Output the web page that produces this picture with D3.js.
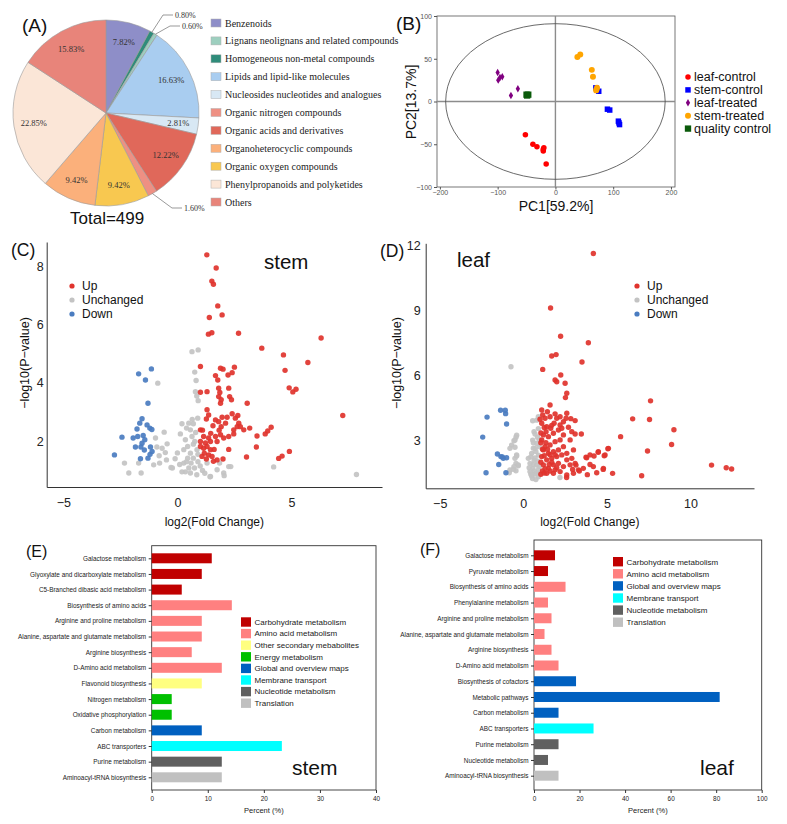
<!DOCTYPE html>
<html><head><meta charset="utf-8">
<script src="https://cdn.jsdelivr.net/npm/d3@7"></script>
<style>body{margin:0;background:#fff}svg{display:block}</style>
</head><body><svg id="c" width="787" height="824"></svg>
<script>
// ---------------- DATA ----------------
const pieCats = ["Benzenoids","Homogeneous non-metal compounds","Lignans neolignans and related compounds","Lipids and lipid-like molecules","Nucleosides nucleotides and analogues","Organic acids and derivatives","Organic nitrogen compounds","Organic oxygen compounds","Organoheterocyclic compounds","Phenylpropanoids and polyketides","Others"];
const piePct = [7.82,0.80,0.60,16.63,2.81,12.22,1.60,9.42,9.42,22.85,15.83];
const pieLegendOrder = ["Benzenoids","Lignans neolignans and related compounds","Homogeneous non-metal compounds","Lipids and lipid-like molecules","Nucleosides nucleotides and analogues","Organic nitrogen compounds","Organic acids and derivatives","Organoheterocyclic compounds","Organic oxygen compounds","Phenylpropanoids and polyketides","Others"];
const pieTotal = 499;

const pcaGroups = ["leaf-control","stem-control","leaf-treated","stem-treated","quality control"];
const leafControlPC = [[-52,-39],[-39,-50],[-32,-53],[-20,-54],[-21,-58],[-21,-56],[-16,-73]];
const stemControlPC = [[70,16],[75,12],[90,-9],[94,-10],[109,-23],[111,-27],[110,-25]];
const leafTreatedPC = [[-100,34],[-96,28],[-99,25],[-92,29],[-65,15],[-77,7]];
const stemTreatedPC = [[38,52],[43,55],[63,37],[65,29],[70.5,13],[72,16],[71,14]];
const qcPC = [[-50,8],[-47,8],[-49,7]];
const pcaTicks = {x:[-200,-100,0,100,200], y:[-100,-50,0,50,100]};

const volcanoClasses = ["Up","Unchanged","Down"];
const stemUp = [[1.29,8.39],[1.70,7.94],[1.51,7.49],[1.58,7.38],[1.77,6.64],[1.40,6.24],[1.96,6.33],[1.36,5.67],[1.51,5.72],[2.68,5.70],[3.70,5.19],[6.30,5.54],[4.65,4.96],[5.72,4.70],[4.72,4.43],[4.90,3.83],[5.06,3.69],[5.20,3.78],[7.25,2.88],[1.01,4.56],[1.67,4.25],[1.89,4.50],[2.00,4.47],[1.77,4.10],[2.22,4.27],[2.50,4.54],[2.40,4.35],[1.01,3.68],[1.30,3.70],[1.81,3.82],[1.86,3.67],[1.81,3.53],[1.92,3.42],[1.89,3.30],[2.25,3.82],[2.29,3.53],[2.37,3.42],[3.06,3.30],[1.30,3.08],[1.37,2.90],[1.27,2.76],[1.67,2.73],[1.81,2.67],[1.96,2.82],[1.56,2.53],[1.92,2.50],[2.11,2.62],[2.18,2.82],[2.40,2.94],[2.54,2.79],[2.69,2.62],[2.62,2.50],[2.47,2.39],[2.91,2.39],[3.17,2.45],[2.65,2.88],[2.76,2.50],[3.49,2.18],[3.85,2.25],[3.96,2.35],[4.11,2.48],[3.46,1.80],[3.03,1.46],[4.44,1.41],[4.59,1.49],[4.91,1.65],[1.01,2.39],[1.15,2.16],[1.37,2.11],[1.01,1.99],[1.23,1.94],[1.45,1.99],[1.67,2.16],[1.89,2.22],[1.74,1.99],[2.03,2.11],[2.25,2.16],[1.01,1.82],[1.15,1.76],[1.30,1.82],[1.45,1.71],[1.18,1.59],[1.37,1.53],[1.08,1.48],[1.27,1.39],[1.52,1.48],[1.74,1.36],[2.25,1.72],[2.00,1.39],[1.58,1.31],[1.61,1.72],[1.46,2.27],[1.83,2.38],[1.10,2.38],[2.47,2.25]];
const stemUnchanged = [[0.64,5.07],[0.91,5.13],[0.76,4.37],[0.82,4.08],[0.79,3.70],[0.91,3.39],[0.85,3.55],[-0.86,3.99],[0.50,2.62],[0.89,2.79],[0.13,2.25],[0.57,2.39],[0.64,2.16],[0.35,2.05],[0.76,1.99],[0.45,1.82],[0.70,1.90],[0.86,1.71],[0.28,1.71],[0.57,1.59],[0.90,1.55],[0.45,1.42],[0.70,1.42],[0.28,1.25],[0.60,1.25],[0.90,1.30],[0.50,1.08],[0.75,1.08],[1.30,1.25],[0.57,0.91],[1.45,0.79],[1.74,1.02],[2.03,0.91],[2.25,1.13],[1.85,1.25],[4.22,1.12],[7.85,0.86],[2.34,1.13],[2.05,0.82],[1.43,0.78],[0.35,0.95],[0.85,0.85],[1.10,1.00],[1.20,0.90],[-0.22,1.08],[-0.58,2.31],[-0.96,2.11],[-0.45,1.91],[-0.67,1.76],[-0.53,1.61],[-2.32,1.25],[-2.13,0.91],[-1.59,0.91],[-1.70,1.25],[-1.04,1.19],[-0.78,1.25],[-0.28,1.10],[-0.48,1.36],[-0.80,1.50],[-0.90,1.80],[0.00,1.60],[0.10,1.20],[0.20,0.95],[-0.10,1.40],[0.40,2.45],[0.70,2.60],[0.80,2.30],[0.65,2.75],[0.20,2.60],[1.00,1.15],[0.40,1.30]];
const stemDown = [[-1.70,4.31],[-1.14,4.48],[-1.40,4.10],[-1.29,3.30],[-1.55,2.77],[-1.65,2.62],[-1.33,2.56],[-1.77,2.42],[-1.21,2.45],[-1.12,2.40],[-2.43,2.14],[-1.94,2.11],[-1.74,2.16],[-1.50,2.20],[-1.43,2.05],[-1.55,1.93],[-1.84,1.80],[-1.60,1.80],[-1.18,1.80],[-1.11,1.65],[-1.20,1.55],[-2.76,1.53],[-1.62,1.40],[-1.29,1.42],[-1.45,1.70]];

const leafUp = [[4.19,11.62],[1.63,9.11],[2.23,7.81],[3.89,7.51],[1.70,6.90],[1.96,6.96],[3.51,6.62],[1.16,6.28],[2.24,6.02],[1.90,5.79],[2.00,5.71],[2.50,5.64],[2.60,5.18],[2.52,4.98],[1.60,4.64],[7.61,4.83],[6.54,4.00],[7.55,3.97],[9.01,3.50],[5.82,3.18],[3.47,3.30],[5.06,2.62],[7.43,2.52],[8.87,2.82],[11.26,1.87],[12.14,1.75],[12.46,1.69],[7.08,1.38],[5.34,1.49],[4.78,1.67],[4.84,2.30],[4.48,2.46],[4.23,2.29],[4.39,1.52],[3.83,1.43],[3.99,1.90],[3.79,2.21],[3.35,1.60],[3.15,1.87],[2.95,1.67],[2.59,1.30],[1.10,4.41],[1.44,4.33],[1.16,4.18],[1.00,3.98],[1.30,4.03],[1.60,4.10],[1.90,4.23],[2.00,4.03],[2.20,4.10],[2.60,4.26],[2.56,4.03],[2.84,4.01],[3.10,3.92],[1.84,3.80],[2.20,3.72],[2.40,3.87],[1.10,3.80],[1.40,3.64],[1.64,3.57],[1.36,3.41],[1.20,3.26],[1.50,3.18],[1.80,3.34],[2.10,3.49],[2.30,3.57],[2.70,3.61],[2.90,3.41],[2.40,3.26],[2.80,3.03],[3.10,3.30],[2.20,3.03],[1.90,2.95],[1.60,2.80],[1.30,2.72],[1.10,3.03],[1.20,2.57],[1.50,2.41],[1.80,2.49],[2.10,2.57],[2.40,2.72],[2.60,2.41],[3.00,2.57],[1.10,2.26],[1.40,2.11],[1.70,2.18],[2.00,2.26],[2.30,2.34],[2.60,2.11],[2.90,2.18],[1.20,1.88],[1.50,1.72],[1.80,1.88],[2.10,1.95],[2.40,1.80],[2.80,1.88],[3.10,1.95],[3.75,2.23],[3.99,2.34],[4.49,2.49],[4.89,2.34],[5.09,2.64],[1.40,1.49],[1.80,1.49],[2.20,1.57],[2.60,1.41],[3.00,1.49],[3.30,1.65],[3.59,1.72],[4.19,1.80],[4.79,1.72],[1.05,2.90],[1.15,2.60],[1.25,2.30],[1.05,2.00],[1.30,1.70],[1.15,1.60],[1.35,2.90],[1.45,2.60],[1.60,2.35],[1.70,2.00],[1.55,1.90],[1.90,2.35],[2.00,1.75],[1.25,3.60],[1.05,3.35],[1.70,3.70],[1.05,1.45],[1.25,1.50],[1.60,1.60],[1.90,1.65]];
const leafUnchanged = [[-0.74,6.40],[-0.40,3.25],[-0.44,3.15],[-0.50,3.02],[-0.56,2.99],[-0.70,2.79],[-0.80,2.64],[-0.50,2.69],[-0.40,2.29],[-0.44,1.95],[-0.30,1.84],[-0.56,1.80],[-0.44,1.61],[-0.80,1.64],[-0.84,1.52],[-0.50,2.18],[-0.30,1.88],[-0.60,1.68],[-0.40,2.34],[0.56,3.91],[0.80,3.94],[0.90,4.10],[0.64,3.41],[0.56,3.02],[0.80,2.87],[0.70,2.64],[0.50,2.41],[0.90,2.33],[0.64,2.10],[0.40,1.95],[0.80,1.87],[0.56,1.72],[0.90,1.64],[0.40,1.57],[0.70,1.46],[0.50,1.37],[0.90,1.33],[2.19,1.30],[0.30,2.18],[0.95,2.72],[0.70,3.30],[0.85,3.15],[0.90,3.55],[0.95,3.02],[0.60,2.90],[0.45,2.25],[0.75,2.50],[0.85,2.05],[0.60,1.90],[0.95,1.80],[0.35,1.75],[0.65,1.60],[0.80,1.50],[0.55,1.25],[0.75,1.20],[0.45,1.45],[0.95,1.45],[0.70,2.20],[0.60,2.65]];
const leafDown = [[-2.17,4.08],[-2.43,3.16],[-1.36,4.40],[-1.08,4.40],[-1.06,4.24],[-1.00,3.76],[-1.55,2.38],[-1.34,2.26],[-1.20,2.18],[-1.00,2.21],[-1.47,1.90],[-2.23,1.52],[-1.04,1.52],[-1.25,2.25]];
const stemXTicks = [-5,0,5], stemYTicks = [2,4,6,8];
const leafXTicks = [-5,0,5,10], leafYTicks = [3,6,9,12];

const stemPathways = ["Galactose metabolism","Glyoxylate and dicarboxylate metabolism","C5-Branched dibasic acid metabolism","Biosynthesis of amino acids","Arginine and proline metabolism","Alanine, aspartate and glutamate metabolism","Arginine biosynthesis","D-Amino acid metabolism","Flavonoid biosynthesis","Nitrogen metabolism","Oxidative phosphorylation","Carbon metabolism","ABC transporters","Purine metabolism","Aminoacyl-tRNA biosynthesis"];
const stemPercent = [10.71,8.93,5.36,14.29,8.93,8.93,7.14,12.50,8.93,3.57,3.57,8.93,23.21,12.50,12.50];
const stemClass = ["Carbohydrate metabolism","Carbohydrate metabolism","Carbohydrate metabolism","Amino acid metabolism","Amino acid metabolism","Amino acid metabolism","Amino acid metabolism","Amino acid metabolism","Other secondary mebabolites","Energy metabolism","Energy metabolism","Global and overview maps","Membrane transport","Nucleotide metabolism","Translation"];
const stemClassLegend = ["Carbohydrate metabolism","Amino acid metabolism","Other secondary mebabolites","Energy metabolism","Global and overview maps","Membrane transport","Nucleotide metabolism","Translation"];
const stemPercentTicks = [0,10,20,30,40];

const leafPathways = ["Galactose metabolism","Pyruvate metabolism","Biosynthesis of amino acids","Phenylalanine metabolism","Arginine and proline metabolism","Alanine, aspartate and glutamate metabolism","Arginine biosynthesis","D-Amino acid metabolism","Biosynthesis of cofactors","Metabolic pathways","Carbon metabolism","ABC transporters","Purine metabolism","Nucleotide metabolism","Aminoacyl-tRNA biosynthesis"];
const leafPercent = [9.23,6.15,13.85,6.15,7.69,4.62,7.69,10.77,18.46,81.54,10.77,26.15,10.77,6.15,10.77];
const leafClass = ["Carbohydrate metabolism","Carbohydrate metabolism","Amino acid metabolism","Amino acid metabolism","Amino acid metabolism","Amino acid metabolism","Amino acid metabolism","Amino acid metabolism","Global and overview maps","Global and overview maps","Global and overview maps","Membrane transport","Nucleotide metabolism","Nucleotide metabolism","Translation"];
const leafClassLegend = ["Carbohydrate metabolism","Amino acid metabolism","Global and overview maps","Membrane transport","Nucleotide metabolism","Translation"];
const leafPercentTicks = [0,20,40,60,80,100];

// ---------------- STYLE ----------------
const SANS = '"Liberation Sans", Arial, sans-serif';
const SERIF = '"Liberation Serif", "Times New Roman", serif';
const pieColor = {
  "Benzenoids":"#8e8ec8","Lignans neolignans and related compounds":"#9dcfbf","Homogeneous non-metal compounds":"#2f8c7a",
  "Lipids and lipid-like molecules":"#a9cdf0","Nucleosides nucleotides and analogues":"#d8e8f4","Organic nitrogen compounds":"#ee9083",
  "Organic acids and derivatives":"#e0685a","Organoheterocyclic compounds":"#fbb07b","Organic oxygen compounds":"#f8c850",
  "Phenylpropanoids and polyketides":"#fbe6d7","Others":"#e8847a"};
const pcaColor = {"leaf-control":"#ff0000","stem-control":"#0000ff","leaf-treated":"#800080","stem-treated":"#ffa500","quality control":"#0a5a0a"};
const pcaShape = {"leaf-control":d3.symbolCircle,"stem-control":d3.symbolSquare,"leaf-treated":d3.symbolDiamond,"stem-treated":d3.symbolCircle,"quality control":d3.symbolSquare};
const pcaSize = {"leaf-control":24,"stem-control":30,"leaf-treated":16,"stem-treated":28,"quality control":40};
const volColor = {"Up":"#e0332d","Unchanged":"#c3c3c3","Down":"#4a7cc0"};
const barColor = {"Carbohydrate metabolism":"#c00000","Amino acid metabolism":"#ff8080","Other secondary mebabolites":"#ffff80","Energy metabolism":"#00c000","Global and overview maps":"#0060c0","Membrane transport":"#00ffff","Nucleotide metabolism":"#606060","Translation":"#c0c0c0"};

const svg = d3.select("#c");
function txt(g, x, y, s, size, opts={}) {
  const t = g.append("text").attr("x",x).attr("y",y).text(s)
    .attr("font-family", opts.family || SANS).attr("font-size", size)
    .attr("fill", opts.fill || "#111");
  if (opts.anchor) t.attr("text-anchor", opts.anchor);
  if (opts.dy) t.attr("dy", opts.dy);
  if (opts.rotate) t.attr("transform", `rotate(-90,${x},${y})`);
  return t;
}

// ---------------- PANEL A ----------------
(function(){
  const cx=106, cy=113, R=93;
  const data = pieCats.map((c,i)=>({cat:c, v:piePct[i]}));
  const arcs = d3.pie().sort(null).value(d=>d.v)(data);
  const arc = d3.arc().innerRadius(0).outerRadius(R);
  const g = svg.append("g").attr("transform",`translate(${cx},${cy})`);
  g.selectAll("path").data(arcs).join("path").attr("d",arc)
    .attr("fill",d=>pieColor[d.data.cat]).attr("stroke","#9a9a9a").attr("stroke-width",0.6);
  const lab = d3.arc().innerRadius(73).outerRadius(73);
  arcs.filter(d=>d.data.v>=2).forEach(d=>{
    const [x,y]=lab.centroid(d);
    txt(g,x,y,d.data.v.toFixed(2)+"%",8.5,{family:SERIF,anchor:"middle",dy:"0.35em",fill:"#333"});
  });
  const small = arcs.filter(d=>d.data.v<2);
  const elbows = [[57,-98],[64,-87],[66,95]];
  small.forEach((d,i)=>{
    const a=(d.startAngle+d.endAngle)/2;
    const p0=[R*Math.sin(a), -R*Math.cos(a)];
    const e=elbows[i];
    g.append("polyline").attr("points",`${p0[0]},${p0[1]} ${e[0]},${e[1]} ${e[0]+10},${e[1]}`)
      .attr("fill","none").attr("stroke","#555").attr("stroke-width",0.6);
    txt(g,e[0]+12,e[1],d.data.v.toFixed(2)+"%",8,{family:SERIF,dy:"0.35em",fill:"#333"});
  });
  txt(svg,70,224,"Total="+pieTotal,17);
  txt(svg,22,32,"(A)",19);
  const lg = svg.append("g");
  pieLegendOrder.forEach((c,i)=>{
    const y=23+i*17.9;
    lg.append("rect").attr("x",211).attr("y",y-4).attr("width",10).attr("height",8)
      .attr("fill",pieColor[c]).attr("stroke","#b0b0b0").attr("stroke-width",0.5);
    txt(lg,225,y,c,10,{family:SERIF,dy:"0.35em",fill:"#222"});
  });
})();

// ---------------- PANEL B ----------------
(function(){
  const x = d3.scaleLinear().domain([-205,207]).range([437,675]);
  const y = d3.scaleLinear().domain([-100,100]).range([187,16]);
  const g = svg.append("g");
  g.append("rect").attr("x",437).attr("y",16).attr("width",238).attr("height",171)
    .attr("fill","none").attr("stroke","#555").attr("stroke-width",0.8);
  const ax = g.append("g").attr("transform","translate(0,187)")
    .call(d3.axisBottom(x).tickValues(pcaTicks.x).tickSize(2.5).tickPadding(1));
  const ay = g.append("g").attr("transform","translate(437,0)")
    .call(d3.axisLeft(y).tickValues(pcaTicks.y).tickSize(3).tickPadding(2));
  [ax,ay].forEach(a=>{a.select(".domain").remove();
    a.selectAll("line").attr("stroke","#555");
    a.selectAll("text").attr("font-family",SANS).attr("font-size",7).attr("fill","#555");});
  g.append("line").attr("x1",x(0)).attr("x2",x(0)).attr("y1",16).attr("y2",187).attr("stroke","#8c8c8c").attr("stroke-width",1.4);
  g.append("line").attr("x1",437).attr("x2",675).attr("y1",y(0)).attr("y2",y(0)).attr("stroke","#8c8c8c").attr("stroke-width",1.4);
  g.append("ellipse").attr("cx",x(0)).attr("cy",y(0)).attr("rx",x(190)-x(0)).attr("ry",y(0)-y(91))
    .attr("fill","none").attr("stroke","#444").attr("stroke-width",0.8);
  const sets = [leafControlPC,stemControlPC,leafTreatedPC,stemTreatedPC,qcPC];
  pcaGroups.forEach((grp,i)=>{
    g.selectAll(null).data(sets[i]).join("path")
      .attr("d",d3.symbol().type(pcaShape[grp]).size(pcaSize[grp]))
      .attr("transform",d=>`translate(${x(d[0])},${y(d[1])})`)
      .attr("fill",pcaColor[grp]);
    const ly=77+i*12.9;
    g.append("path").attr("d",d3.symbol().type(pcaShape[grp]).size(pcaSize[grp]))
      .attr("transform",`translate(688,${ly})`).attr("fill",pcaColor[grp]);
    txt(g,694,ly,grp,12.5,{dy:"0.35em"});
  });
  txt(svg,556,211,"PC1[59.2%]",14,{anchor:"middle"});
  txt(svg,416,102,"PC2[13.7%]",14,{anchor:"middle",rotate:true});
  txt(svg,396,30,"(B)",19);
})();

// ---------------- VOLCANOS ----------------
function volcano(opt){
  const x = d3.scaleLinear().domain(opt.xd).range([opt.l,opt.r]);
  const y = d3.scaleLinear().domain(opt.yd).range([opt.b,opt.t]);
  const g = svg.append("g");
  const ax = g.append("g").attr("transform",`translate(0,${opt.b})`)
    .call(d3.axisBottom(x).tickValues(opt.xt).tickSize(0).tickPadding(11).tickFormat(d=>d<0?"\u2212"+Math.abs(d):d));
  const ay = g.append("g").attr("transform",`translate(${opt.l},0)`)
    .call(d3.axisLeft(y).tickValues(opt.yt).tickSize(0).tickPadding(opt.yp));
  [ax,ay].forEach(a=>{a.select(".domain").attr("stroke","#333").attr("stroke-width",1);
    a.selectAll("text").attr("font-family",SANS).attr("font-size",12.5).attr("fill","#222");});
  const sets=[opt.up,opt.un,opt.dn];
  [1,2,0].forEach(i=>{
    g.selectAll(null).data(sets[i]).join("circle")
      .attr("cx",d=>x(d[0])).attr("cy",d=>y(d[1])).attr("r",2.7)
      .attr("fill",volColor[volcanoClasses[i]]).attr("fill-opacity",0.92);
  });
  volcanoClasses.forEach((c,i)=>{
    const ly=286+i*14;
    g.append("circle").attr("cx",opt.lx).attr("cy",ly).attr("r",2.6).attr("fill",volColor[c]);
    txt(g,opt.lx+10,ly,c,12,{dy:"0.35em"});
  });
  txt(svg,(opt.l+opt.r)/2,526,"log2(Fold Change)",12,{anchor:"middle"});
  txt(svg,opt.ylx,363,"\u2212log10(P\u2212value)",12.5,{anchor:"middle",rotate:true});
  txt(svg,opt.tx,opt.ty,opt.title,20.5);
  txt(svg,opt.px,opt.py,opt.panel,17.5);
}
volcano({xd:[-5.73,8.97],yd:[0.43,8.83],l:46.7,r:382,b:487,t:242,xt:stemXTicks,yt:stemYTicks,yp:3,
  up:stemUp,un:stemUnchanged,dn:stemDown,lx:72,ylx:29,title:"stem",tx:264,ty:269,panel:"(C)",px:11,py:256});
volcano({xd:[-5.84,13.8],yd:[0.80,12.09],l:425.7,r:754,b:488.3,t:243.3,xt:leafXTicks,yt:leafYTicks,yp:5,
  up:leafUp,un:leafUnchanged,dn:leafDown,lx:637,ylx:401,title:"leaf",tx:457,ty:267,panel:"(D)",px:380,py:257});

// ---------------- BAR CHARTS ----------------
function bars(opt){
  const x = d3.scaleLinear().domain([0,opt.max]).range([opt.l,opt.r]);
  const y = d3.scalePoint().domain(opt.cats).range([opt.y0,opt.y1]);
  const g = svg.append("g");
  g.append("rect").attr("x",opt.l).attr("y",opt.t).attr("width",opt.r-opt.l).attr("height",opt.b-opt.t)
    .attr("fill","none").attr("stroke","#333").attr("stroke-width",0.9);
  g.selectAll(null).data(opt.cats).join("rect")
    .attr("x",x(0)).attr("y",d=>y(d)-5).attr("height",10)
    .attr("width",(d,i)=>x(opt.vals[i])-x(0))
    .attr("fill",(d,i)=>barColor[opt.cls[i]]);
  const ax = g.append("g").attr("transform",`translate(0,${opt.b})`)
    .call(d3.axisBottom(x).tickValues(opt.ticks).tickSize(3).tickPadding(3));
  const ay = g.append("g").attr("transform",`translate(${opt.l},0)`)
    .call(d3.axisLeft(y).tickSize(3).tickPadding(2.5));
  [ax,ay].forEach(a=>{a.select(".domain").remove();
    a.selectAll("line").attr("stroke","#333");
    a.selectAll("text").attr("font-family",SANS).attr("font-size",6.4).attr("fill","#222");});
  opt.legend.forEach((c,i)=>{
    const ly=opt.ly+i*opt.ls;
    g.append("rect").attr("x",opt.lx).attr("y",ly-4.7).attr("width",10).attr("height",9.4).attr("fill",barColor[c]);
    txt(g,opt.lx+13.5,ly,c,8,{dy:"0.35em",fill:"#222"});
  });
  txt(svg,(opt.l+opt.r)/2,813,"Percent (%)",7.5,{anchor:"middle",fill:"#222"});
  txt(svg,opt.tx,775,opt.title,21);
  txt(svg,opt.px,opt.py,opt.panel,16);
}
bars({cats:stemPathways,vals:stemPercent,cls:stemClass,legend:stemClassLegend,max:40,ticks:stemPercentTicks,
  l:151.7,r:376,t:545.7,b:790,y0:558.3,y1:777.3,lx:241,ly:622,ls:11.6,tx:292,title:"stem",panel:"(E)",px:26,py:557});
bars({cats:leafPathways,vals:leafPercent,cls:leafClass,legend:leafClassLegend,max:100,ticks:leafPercentTicks,
  l:534,r:761.7,t:540,b:790,y0:555.3,y1:775.7,lx:613,ly:561.7,ls:12.1,tx:700,title:"leaf",panel:"(F)",px:420,py:555});
</script>
</body></html>
